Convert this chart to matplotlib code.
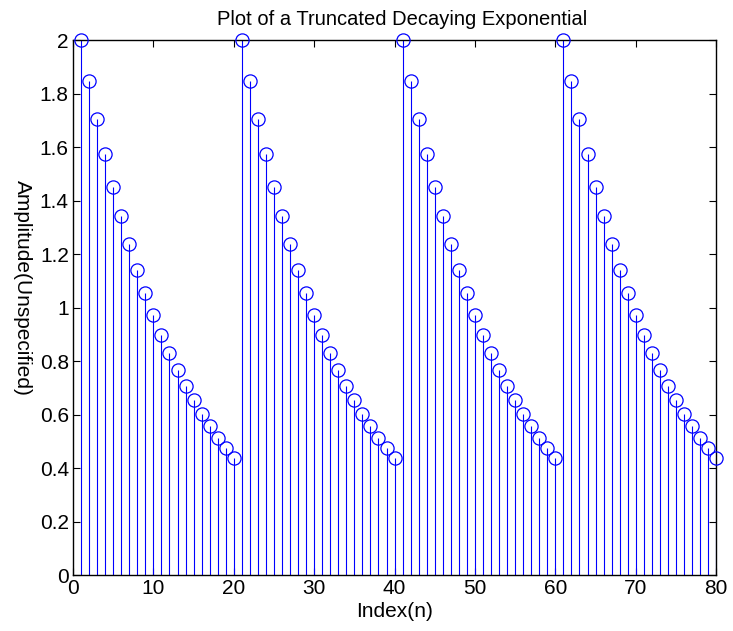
import matplotlib.pyplot as plt
import numpy as np

plt.rcParams.update({
    'font.family': ['Liberation Sans', 'DejaVu Sans'],
    'font.size': 15,
})

# one period of the truncated decaying exponential
cycle = [2.000, 1.846, 1.705, 1.573, 1.452, 1.341, 1.238, 1.142, 1.055, 0.973,
         0.899, 0.830, 0.766, 0.707, 0.653, 0.603, 0.556, 0.513, 0.474, 0.437]
amplitude = cycle * 4
index = list(range(1, len(amplitude) + 1))

fig = plt.figure(figsize=(7.33, 6.31), dpi=100)
ax = fig.add_axes([0.0996, 0.0887, 0.8774, 0.8479])

markers, stems, base = ax.stem(index, amplitude, basefmt=' ')
plt.setp(stems, color='blue', linewidth=0.8)
plt.setp(markers, color='blue', marker='o', markersize=9.5,
         markerfacecolor='none', markeredgewidth=0.9, clip_on=False, zorder=3)

ax.set_xlim(0, 80)
ax.set_ylim(0, 2)
ax.set_xticks(np.arange(0, 81, 10))
ax.set_yticks(np.arange(0, 2.01, 0.2))
ax.set_yticklabels(['0', '0.2', '0.4', '0.6', '0.8', '1', '1.2', '1.4', '1.6', '1.8', '2'])
ax.tick_params(direction='in', top=True, right=True, length=5, width=0.8,
               labelsize=15, pad=3)
for s in ax.spines.values():
    s.set_linewidth(1.0)

ax.set_title('Plot of a Truncated Decaying Exponential', fontsize=14.5, pad=11, x=0.511)
ax.set_xlabel('Index(n)', fontsize=15, labelpad=3)
ax.set_ylabel('Amplitude(Unspecified)', fontsize=15, rotation=270)
ax.yaxis.set_label_coords(-0.078, 0.536)
ax.yaxis.label.set_va('center')

fig.savefig('out.png', dpi=100)
